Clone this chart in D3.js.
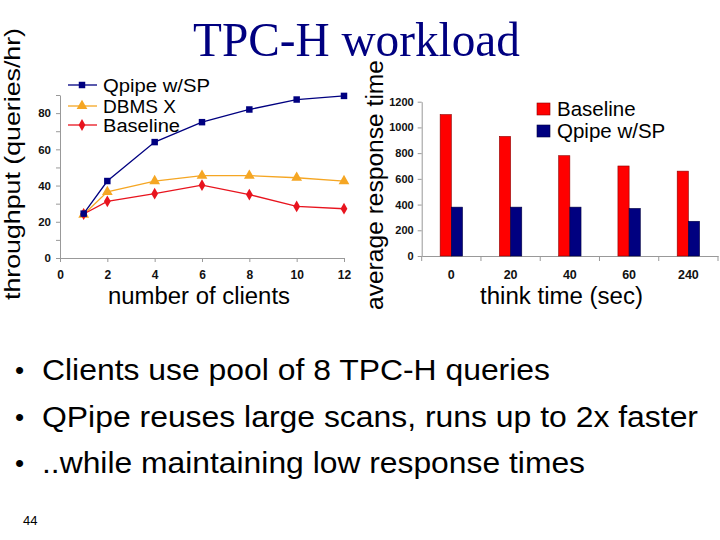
<!DOCTYPE html>
<html>
<head>
<meta charset="utf-8">
<script src="https://cdn.jsdelivr.net/npm/d3@7/dist/d3.min.js"></script>
<style>
  html, body { margin: 0; padding: 0; background: #fff; }
  svg { display: block; }
  text { font-family: "Liberation Sans", Arial, sans-serif; }
</style>
</head>
<body>
<svg id="chart" width="720" height="540"></svg>
<script>
// ---- Data: left chart (throughput vs number of clients) ----
const clients = [1, 2, 4, 6, 8, 10, 12];
const qpipeThroughput = [24.5, 42.5, 64, 75, 82, 87.5, 89.5];
const dbmsxThroughput = [24, 36.5, 42.5, 45.5, 45.5, 44.3, 42.5];
const baselineThroughput = [24.3, 31.3, 35.5, 40.2, 35, 28.5, 27.2];
const lineSeriesNames = ["Qpipe w/SP", "DBMS X", "Baseline"];
const leftXTicks = [0, 2, 4, 6, 8, 10, 12];
const leftYTicks = [0, 20, 40, 60, 80];

// ---- Data: right chart (average response time vs think time) ----
const thinkTimes = ["0", "20", "40", "60", "240"];
const baselineResponse = [1100, 930, 780, 700, 660];
const qpipeResponse = [380, 380, 380, 370, 270];
const barSeriesNames = ["Baseline", "Qpipe w/SP"];
const rightYTicks = [0, 200, 400, 600, 800, 1000, 1200];

// ---- Text ----
const titleText = "TPC-H workload";
const bullets = [
  "Clients use pool of 8 TPC-H queries",
  "QPipe reuses large scans, runs up to 2x faster",
  "..while maintaining low response times"
];
const pageNumber = "44";

const svg = d3.select("#chart");
const axisColor = "#999";
const labelColor = "#111";

// Title
svg.append("text")
  .attr("x", 193).attr("y", 56)
  .attr("textLength", 327).attr("lengthAdjust", "spacingAndGlyphs")
  .style("font-family", "'Liberation Serif', 'Times New Roman', serif")
  .style("font-size", "49px")
  .attr("fill", "#000080")
  .text(titleText);

// ================= LEFT CHART =================
const xL = d3.scaleLinear().domain([0, 12]).range([60, 344]);
const yL = d3.scaleLinear().domain([0, 90]).range([258, 95]);

const gL = svg.append("g");

const yAxisL = d3.axisLeft(yL)
  .tickValues(d3.range(0, 91, 10))
  .tickFormat(d => leftYTicks.includes(d) ? d : "")
  .tickSize(4).tickSizeOuter(0).tickPadding(5);
const gyL = gL.append("g").attr("transform", `translate(${xL(0)},0)`).call(yAxisL);

const xAxisL = d3.axisBottom(xL)
  .tickValues(leftXTicks)
  .tickSize(4).tickSizeOuter(0).tickPadding(8);
const gxL = gL.append("g").attr("transform", `translate(0,${yL(0)})`).call(xAxisL);

[gyL, gxL].forEach(g => {
  g.select(".domain").attr("stroke", axisColor);
  g.selectAll(".tick line").attr("stroke", axisColor);
  g.selectAll(".tick text").attr("fill", labelColor)
    .style("font-size", "12px").style("font-weight", "bold").style("font-family", "'Liberation Sans', Arial, sans-serif");
});
gyL.selectAll(".tick text").style("font-size", "11.5px");

const lineColors = ["#000080", "#f5a623", "#e8141e"];
const lineData = [qpipeThroughput, dbmsxThroughput, baselineThroughput];
const line = d3.line().x((d, i) => xL(clients[i])).y(d => yL(d));

const markerPath = (type, size) => {
  const s = type === "square" ? d3.symbolSquare : type === "triangle" ? d3.symbolTriangle : d3.symbolDiamond;
  return d3.symbol().type(s).size(size)();
};
const markerTypes = ["square", "triangle", "diamond"];
const markerSizes = [42, 50, 40];

// draw order: DBMS X, Baseline, then Qpipe on top
[1, 2, 0].forEach(si => {
  gL.append("path")
    .datum(lineData[si])
    .attr("d", line)
    .attr("fill", "none")
    .attr("stroke", lineColors[si])
    .attr("stroke-width", 1.3);
  gL.selectAll(null)
    .data(lineData[si])
    .enter().append("path")
    .attr("d", markerPath(markerTypes[si], markerSizes[si]))
    .attr("transform", (d, i) => `translate(${xL(clients[i])},${yL(d)})`)
    .attr("fill", lineColors[si]);
});

// Left legend
const legL = gL.append("g");
const legLY = [85, 106, 125];
const legLWidths = [107, 73, 77];
lineSeriesNames.forEach((name, i) => {
  legL.append("line")
    .attr("x1", 68).attr("x2", 97)
    .attr("y1", legLY[i]).attr("y2", legLY[i])
    .attr("stroke", lineColors[i]).attr("stroke-width", 1.3);
  legL.append("path")
    .attr("d", markerPath(markerTypes[i], markerSizes[i]))
    .attr("transform", `translate(82,${legLY[i]})`)
    .attr("fill", lineColors[i]);
  legL.append("text")
    .attr("x", 103).attr("y", legLY[i] + 7)
    .attr("textLength", legLWidths[i]).attr("lengthAdjust", "spacingAndGlyphs")
    .style("font-size", "18px")
    .attr("fill", "#000")
    .text(name);
});

// Left axis titles
svg.append("text")
  .attr("x", 108).attr("y", 304)
  .attr("textLength", 182).attr("lengthAdjust", "spacingAndGlyphs")
  .style("font-size", "23.5px").attr("fill", "#000")
  .text("number of clients");

svg.append("text")
  .attr("transform", "translate(20,300) rotate(-90)")
  .attr("x", 0).attr("y", 0)
  .attr("textLength", 272).attr("lengthAdjust", "spacingAndGlyphs")
  .style("font-size", "22px").attr("fill", "#000")
  .text("throughput (queries/hr)");

// ================= RIGHT CHART =================
const x0 = d3.scaleBand().domain(thinkTimes).range([421.7, 718]).padding(0);
const x1 = d3.scaleBand().domain(barSeriesNames).range([0, x0.bandwidth()]).paddingInner(0).paddingOuter(1.65);
const yR = d3.scaleLinear().domain([0, 1200]).range([256, 101.7]);

const gR = svg.append("g");

const yAxisR = d3.axisLeft(yR).tickValues(rightYTicks).tickFormat(d3.format("d"))
  .tickSize(4).tickSizeOuter(0).tickPadding(4);
const gyR = gR.append("g").attr("transform", `translate(${x0.range()[0]},0)`).call(yAxisR);
gyR.select(".domain").attr("stroke", axisColor);
gyR.selectAll(".tick line").attr("stroke", axisColor);
gyR.selectAll(".tick text").attr("fill", labelColor)
  .style("font-size", "11px").style("font-weight", "bold");

const xAxisR = d3.axisBottom(x0).tickSize(0).tickSizeOuter(0).tickPadding(14);
const gxR = gR.append("g").attr("transform", `translate(0,${yR(0)})`).call(xAxisR);
gxR.select(".domain").attr("stroke", axisColor);
gxR.selectAll(".tick text").attr("fill", labelColor)
  .style("font-size", "12.5px").style("font-weight", "bold");
// band boundary ticks
const boundaries = thinkTimes.map(c => x0(c)).concat([x0.range()[1]]);
gR.selectAll(null).data(boundaries).enter().append("line")
  .attr("x1", d => d).attr("x2", d => d)
  .attr("y1", yR(0)).attr("y2", yR(0) + 5)
  .attr("stroke", axisColor);

const barColors = ["#ff0000", "#000080"];
const barStrokes = ["#8a0000", "#000040"];
const barData = [baselineResponse, qpipeResponse];
barSeriesNames.forEach((name, si) => {
  gR.selectAll(null)
    .data(barData[si])
    .enter().append("rect")
    .attr("x", (d, i) => x0(thinkTimes[i]) + x1(name))
    .attr("width", x1.bandwidth())
    .attr("y", d => yR(d))
    .attr("height", d => yR(0) - yR(d))
    .attr("fill", barColors[si])
    .attr("stroke", barStrokes[si])
    .attr("stroke-width", 0.6);
});

// Right legend
const legRY = [103, 125];
barSeriesNames.forEach((name, i) => {
  gR.append("rect")
    .attr("x", 537).attr("y", legRY[i])
    .attr("width", 13).attr("height", 12)
    .attr("fill", barColors[i])
    .attr("stroke", barStrokes[i]).attr("stroke-width", 0.6);
  gR.append("text")
    .attr("x", 557).attr("y", legRY[i] + 13)
    .style("font-size", "20.5px").attr("fill", "#000")
    .text(name);
});

// Right axis titles
svg.append("text")
  .attr("x", 480).attr("y", 304)
  .attr("textLength", 163).attr("lengthAdjust", "spacingAndGlyphs")
  .style("font-size", "23.5px").attr("fill", "#000")
  .text("think time (sec)");

svg.append("text")
  .attr("transform", "translate(383,310) rotate(-90)")
  .attr("x", 0).attr("y", 0)
  .attr("textLength", 250).attr("lengthAdjust", "spacingAndGlyphs")
  .style("font-size", "23px").attr("fill", "#000")
  .text("average response time");

// ================= BULLETS =================
const bulletBaselines = [380, 427, 473];
const bulletEnds = [550, 698, 585];
bullets.forEach((t, i) => {
  svg.append("text")
    .attr("x", 15).attr("y", bulletBaselines[i] - 1)
    .style("font-size", "26px").attr("fill", "#000")
    .text("\u2022");
  svg.append("text")
    .attr("x", 42).attr("y", bulletBaselines[i])
    .attr("textLength", bulletEnds[i] - 42).attr("lengthAdjust", "spacingAndGlyphs")
    .style("font-size", "30px").attr("fill", "#000")
    .text(t);
});

svg.append("text")
  .attr("x", 23).attr("y", 525)
  .style("font-size", "13px").attr("fill", "#000")
  .text(pageNumber);
</script>
</body>
</html>
